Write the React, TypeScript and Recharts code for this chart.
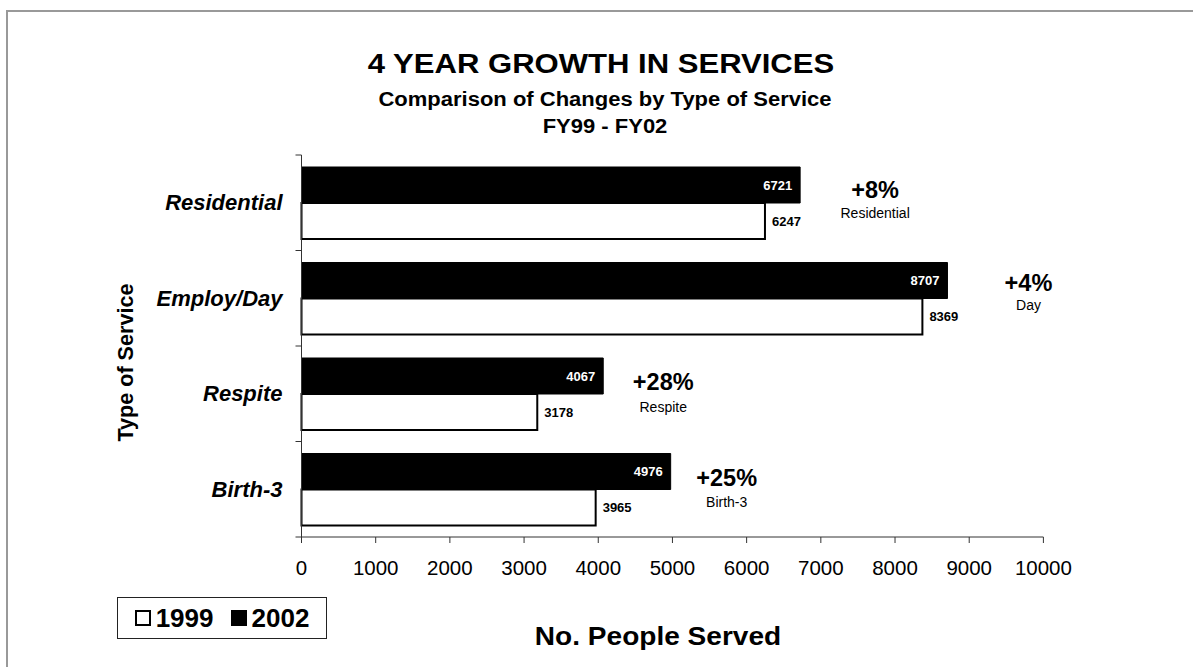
import { BarChart, Bar, XAxis, YAxis, LabelList } from 'recharts';

const services = ['Residential', 'Employ/Day', 'Respite', 'Birth-3'];
const served1999 = [6247, 8369, 3178, 3965];
const served2002 = [6721, 8707, 4067, 4976];
const growth = ['+8%', '+4%', '+28%', '+25%'];
const growthNames = ['Residential', 'Day', 'Respite', 'Birth-3'];
const xTicks = [0, 1000, 2000, 3000, 4000, 5000, 6000, 7000, 8000, 9000, 10000];

const data = services.map((service, i) => ({
  service,
  y1999: served1999[i],
  y2002: served2002[i],
}));

const FONT = '"Liberation Sans", Arial, Helvetica, sans-serif';

// where the growth notes sit, relative to the end of the 2002 bar / band centre
const NOTE_DX = [75, 81, 60, 56];
const NOTE_DY = [-13, -16, -12, -12];
const NAME_DY = [10, 7, 13, 13];

const ServiceTick = (props: any) => {
  const { x, y, payload, index } = props;
  const half = payload?.offset || 47.75;
  return (
    <g>
      <text
        x={x - 19}
        y={y}
        dy="0.35em"
        textAnchor="end"
        fontFamily={FONT}
        fontSize={22}
        fontWeight="bold"
        fontStyle="italic"
        fill="#000"
      >
        {payload.value}
      </text>
      <line x1={x - 6} x2={x} y1={y - half} y2={y - half} stroke="#333" />
      {index === services.length - 1 && (
        <line x1={x - 6} x2={x} y1={y + half} y2={y + half} stroke="#333" />
      )}
    </g>
  );
};

const Label2002 = (props: any) => {
  const vb = props.viewBox ?? props;
  const { x, y, width, height } = vb;
  const i = props.index;
  const mid = y + height;
  const end = x + width;
  return (
    <g fontFamily={FONT}>
      <text x={end - 8} y={y + height / 2} dy="0.35em" textAnchor="end" fill="#fff" fontSize={13} fontWeight="bold">
        {props.value}
      </text>
      <text x={end + NOTE_DX[i]} y={mid + NOTE_DY[i]} dy="0.35em" textAnchor="middle" fill="#000" fontSize={23.5} fontWeight="bold">
        {growth[i]}
      </text>
      <text x={end + NOTE_DX[i]} y={mid + NAME_DY[i]} dy="0.35em" textAnchor="middle" fill="#000" fontSize={14}>
        {growthNames[i]}
      </text>
    </g>
  );
};

const Label1999 = (props: any) => {
  const vb = props.viewBox ?? props;
  const { x, y, width, height } = vb;
  return (
    <text x={x + width + 7} y={y + height / 2} dy="0.35em" textAnchor="start" fill="#000" fontFamily={FONT} fontSize={13} fontWeight="bold">
      {props.value}
    </text>
  );
};

const centered = (cx: number, cy: number, size: number, sx: number): React.CSSProperties => ({
  position: 'absolute',
  left: cx,
  top: cy - 0.49 * size,
  transform: `translateX(-50%) scaleX(${sx})`,
  fontSize: size,
  lineHeight: 1,
  fontWeight: 'bold',
  whiteSpace: 'nowrap',
});

const Swatch = ({ fill }: { fill: string }) => (
  <span
    style={{
      display: 'inline-block',
      width: 16,
      height: 16,
      background: fill,
      border: '2px solid #000',
      boxSizing: 'border-box',
    }}
  />
);

export default function App() {
  return (
    <div
      style={{
        position: 'absolute',
        left: 0,
        top: 0,
        width: 1193,
        height: 667,
        overflow: 'hidden',
        background: '#fff',
        fontFamily: FONT,
        color: '#000',
      }}
    >
      <div
        style={{
          position: 'absolute',
          left: 6,
          top: 10,
          width: 1300,
          height: 800,
          border: '2px solid #999',
        }}
      />

      <div style={centered(601, 64, 27, 1.15)}>4 YEAR GROWTH IN SERVICES</div>
      <div style={centered(605, 99, 20, 1.1)}>Comparison of Changes by Type of Service</div>
      <div style={centered(605, 126, 20, 1.1)}>FY99 - FY02</div>

      <BarChart
        width={1193}
        height={667}
        data={data}
        layout="vertical"
        margin={{ top: 155, right: 149.6, bottom: 80, left: 101.5 }}
        barCategoryGap={12}
        barGap={0}
        style={{ position: 'absolute', left: 0, top: 0 }}
      >
        <XAxis
          type="number"
          domain={[0, 10000]}
          ticks={xTicks}
          interval={0}
          height={50}
          tickSize={6}
          tickMargin={17}
          axisLine={{ stroke: '#333' }}
          tickLine={{ stroke: '#333' }}
          tick={{ fontSize: 20.5, fill: '#000', fontFamily: FONT }}
        />
        <YAxis
          type="category"
          dataKey="service"
          width={200}
          tickLine={false}
          tickSize={0}
          tickMargin={0}
          axisLine={{ stroke: '#333' }}
          tick={<ServiceTick />}
        />
        <Bar dataKey="y2002" fill="#000" stroke="#000" strokeWidth={1} isAnimationActive={false}>
          <LabelList dataKey="y2002" content={<Label2002 />} />
        </Bar>
        <Bar dataKey="y1999" fill="#fff" stroke="#000" strokeWidth={2} isAnimationActive={false}>
          <LabelList dataKey="y1999" content={<Label1999 />} />
        </Bar>
      </BarChart>

      <div
        style={{
          position: 'absolute',
          left: 126,
          top: 363 - 0.49 * 21.6,
          transform: 'translateX(-50%) rotate(-90deg)',
          transformOrigin: '50% 0.49em',
          fontSize: 21.6,
          lineHeight: 1,
          fontWeight: 'bold',
          whiteSpace: 'nowrap',
        }}
      >
        Type of Service
      </div>

      <div style={centered(658, 636, 25.5, 1.1)}>No. People Served</div>

      <div
        style={{
          position: 'absolute',
          left: 117,
          top: 597,
          width: 210,
          height: 42,
          border: '1px solid #222',
          boxSizing: 'border-box',
          display: 'flex',
          alignItems: 'center',
          justifyContent: 'center',
          gap: 5,
          fontSize: 26,
          fontWeight: 'bold',
          lineHeight: 1,
        }}
      >
        <Swatch fill="#fff" />
        <span style={{ marginRight: 12 }}>1999</span>
        <Swatch fill="#000" />
        <span>2002</span>
      </div>
    </div>
  );
}
